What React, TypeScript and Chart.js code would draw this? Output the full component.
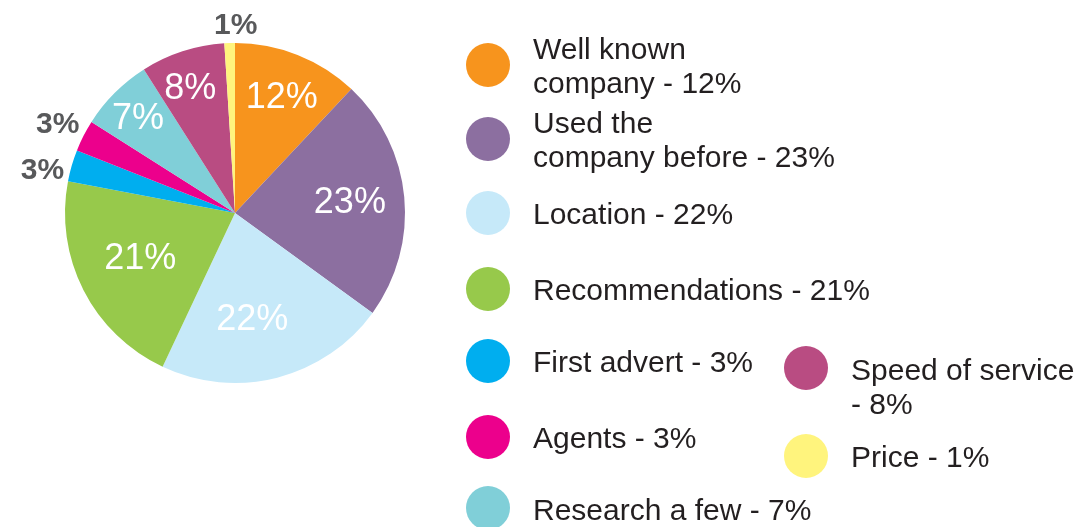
import React, { useEffect, useRef } from "react";
import { Chart, registerables } from "chart.js";

Chart.register(...registerables);

const categories = [
  "Well known company",
  "Used the company before",
  "Location",
  "Recommendations",
  "First advert",
  "Agents",
  "Research a few",
  "Speed of service",
  "Price",
];
const values = [12, 23, 22, 21, 3, 3, 7, 8, 1];
const colors = [
  "#F7941D",
  "#8C6FA0",
  "#C6E9F9",
  "#97C94B",
  "#00AEEF",
  "#EC008C",
  "#80CFD8",
  "#B94C82",
  "#FFF47D",
];
// legend text split into display lines (value appended to last line)
const legendLines = [
  ["Well known", "company"],
  ["Used the", "company before"],
  ["Location"],
  ["Recommendations"],
  ["First advert"],
  ["Agents"],
  ["Research a few"],
  ["Speed of service", ""],
  ["Price"],
];

// layout (positions only)
const legendLayout = [
  { cx: 488, cy: 65, tx: 533, ty: 59 },
  { cx: 488, cy: 139, tx: 533, ty: 133 },
  { cx: 488, cy: 213, tx: 533, ty: 224 },
  { cx: 488, cy: 289, tx: 533, ty: 300 },
  { cx: 488, cy: 361, tx: 533, ty: 372 },
  { cx: 488, cy: 437, tx: 533, ty: 448 },
  { cx: 488, cy: 508, tx: 533, ty: 520 },
  { cx: 806, cy: 368, tx: 851, ty: 380 },
  { cx: 806, cy: 456, tx: 851, ty: 467 },
];
const labelRadius = [0.747, 0.68, 0.62, 0.613, 1.163, 1.17, 0.806, 0.79, 1.118];
const labelAngleShift = [0, -1, 5, 2.5, -3, 0, 0, -1.5, 2];

const overlayPlugin = {
  id: "overlay",
  afterDatasetsDraw(chart: any) {
    const ctx = chart.ctx;
    const meta = chart.getDatasetMeta(0);
    ctx.save();
    meta.data.forEach((arc: any, i: number) => {
      const { x, y, startAngle, endAngle, outerRadius } = arc.getProps(
        ["x", "y", "startAngle", "endAngle", "outerRadius"],
        true
      );
      const mid = (startAngle + endAngle) / 2 + (labelAngleShift[i] * Math.PI) / 180;
      const f = labelRadius[i];
      const r = outerRadius * f;
      const lx = x + Math.cos(mid) * r;
      const ly = y + Math.sin(mid) * r;
      const outside = f > 1;
      ctx.textAlign = "center";
      ctx.textBaseline = "alphabetic";
      let size;
      if (outside) {
        size = 30;
        ctx.fillStyle = "#58595B";
        ctx.font = "bold 30px 'Liberation Sans', Arial, sans-serif";
      } else {
        size = 36;
        ctx.fillStyle = "#FFFFFF";
        ctx.font = "36px 'Liberation Sans', Arial, sans-serif";
      }
      ctx.fillText(values[i] + "%", lx, ly + size * 0.358);
    });

    // legend
    ctx.textAlign = "left";
    ctx.textBaseline = "alphabetic";
    ctx.font = "30px 'Liberation Sans', Arial, sans-serif";
    categories.forEach((_c, i) => {
      const L = legendLayout[i];
      ctx.beginPath();
      ctx.arc(L.cx, L.cy, 22, 0, Math.PI * 2);
      ctx.fillStyle = colors[i];
      ctx.fill();
      ctx.fillStyle = "#231F20";
      const lines = legendLines[i];
      lines.forEach((ln, j) => {
        let text = ln;
        if (j === lines.length - 1) {
          text = ln ? ln + " - " + values[i] + "%" : "- " + values[i] + "%";
        }
        ctx.fillText(text, L.tx, L.ty + j * 34);
      });
    });
    ctx.restore();
  },
};

export default function App() {
  const ref = useRef<HTMLCanvasElement>(null);
  useEffect(() => {
    if (!ref.current) return;
    const chart = new Chart(ref.current, {
      type: "pie",
      data: {
        labels: categories,
        datasets: [
          {
            data: values,
            backgroundColor: colors,
            borderWidth: 0,
          },
        ],
      },
      options: {
        responsive: false,
        animation: false,
        layout: { padding: { left: 65, right: 682, top: 43, bottom: 144 } },
        plugins: {
          legend: { display: false },
          tooltip: { enabled: false },
        },
      },
      plugins: [overlayPlugin],
    });
    return () => chart.destroy();
  }, []);
  return (
    <div style={{ position: "fixed", left: 0, top: 0, width: 1087, height: 527, background: "#fff" }}>
      <canvas ref={ref} width={1087} height={527} />
    </div>
  );
}
